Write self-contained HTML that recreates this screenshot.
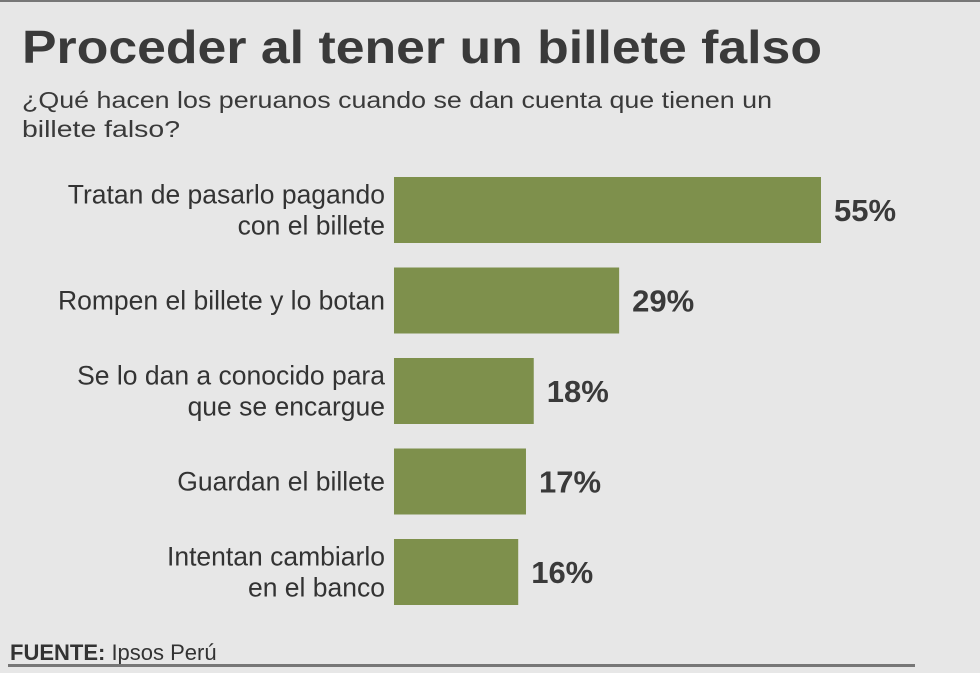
<!DOCTYPE html>
<html><head><meta charset="utf-8"><style>
html,body{margin:0;padding:0;background:#e7e7e7;}
svg{display:block;font-family:"Liberation Sans",sans-serif;}
</style></head><body>
<svg id="chart" width="980" height="673" viewBox="0 0 980 673" xmlns="http://www.w3.org/2000/svg">
<rect x="0" y="0" width="980" height="673" fill="#e7e7e7"/>
<rect x="0" y="0" width="980" height="2" fill="#777"/>
<text x="22" y="63" font-size="46" font-weight="bold" fill="#3a3a3a" textLength="800" lengthAdjust="spacingAndGlyphs">Proceder al tener un billete falso</text>
<text x="22" y="108" font-size="23" fill="#3a3a3a" textLength="750" lengthAdjust="spacingAndGlyphs">¿Qué hacen los peruanos cuando se dan cuenta que tienen un</text>
<text x="22" y="137" font-size="23" fill="#3a3a3a" textLength="158" lengthAdjust="spacingAndGlyphs">billete falso?</text>
<g id="bars"></g>
<text x="10" y="660" font-size="22" fill="#333"><tspan font-weight="bold">FUENTE:</tspan> Ipsos Perú</text>
<rect x="8" y="664" width="907" height="3" fill="#777"/>
</svg>
<script>
const categories = [["Tratan de pasarlo pagando","con el billete"],["Rompen el billete y lo botan"],["Se lo dan a conocido para","que se encargue"],["Guardan el billete"],["Intentan cambiarlo","en el banco"]];
const values = [55, 29, 18, 17, 16];
const valueLabels = ["55%","29%","18%","17%","16%"];
const NS = "http://www.w3.org/2000/svg";
const g = document.getElementById("bars");
const x0 = 394, pxPerUnit = 427/55;
const xScale = v => x0 + v * pxPerUnit;
const yTop = i => 177 + i * 90.5;
const barH = 66;
values.forEach((v, i) => {
  const r = document.createElementNS(NS, "rect");
  
  
  r.setAttribute("x", x0);
  r.setAttribute("y", yTop(i));
  r.setAttribute("width", xScale(v) - x0);
  r.setAttribute("height", barH);
  r.setAttribute("fill", "#7e904c");
  g.appendChild(r);
  const t = document.createElementNS(NS, "text");
  
  
  t.setAttribute("x", xScale(v) + 13);
  t.setAttribute("y", yTop(i) + barH/2 + 11);
  t.setAttribute("font-size", "31");
  t.setAttribute("font-weight", "bold");
  t.setAttribute("fill", "#3a3a3a");
  t.textContent = valueLabels[i];
  g.appendChild(t);
  const lines = categories[i];
  lines.forEach((ln, j) => {
    const c = document.createElementNS(NS, "text");
    
    
    c.setAttribute("x", 385);
    const cy = yTop(i) + barH/2 + 9 + (j - (lines.length-1)/2) * 31;
    c.setAttribute("y", cy);
    c.setAttribute("font-size", "26.5");
    c.setAttribute("text-anchor", "end");
    c.setAttribute("fill", "#333");
    c.textContent = ln;
    g.appendChild(c);
  });
});
</script>
</body></html>
